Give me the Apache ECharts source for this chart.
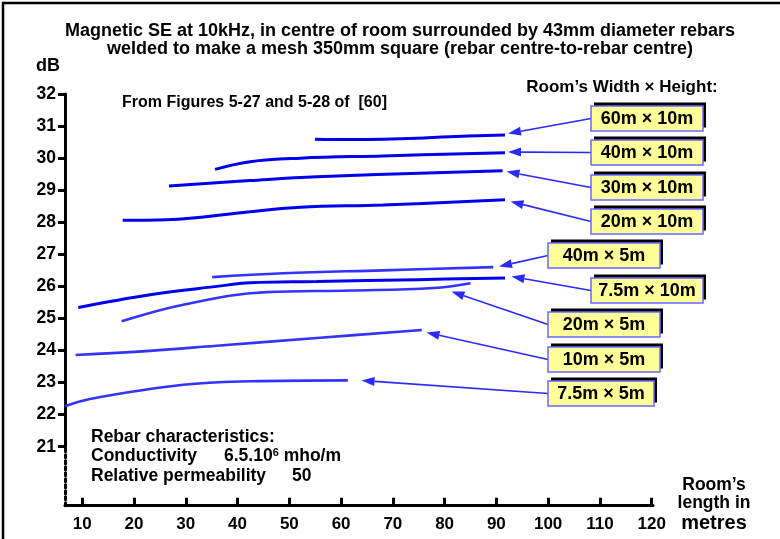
<!DOCTYPE html>
<html><head><meta charset="utf-8">
<script src="https://cdn.jsdelivr.net/npm/echarts@6/dist/echarts.min.js"></script>
<style>html,body{margin:0;padding:0;background:#fff}#c{width:780px;height:539px}</style>
</head><body><div id="c"></div>
<script>
// ---- data (x = room length in metres, y = dB) ----
const xTicks = [10,20,30,40,50,60,70,80,90,100,110,120];
const yTicks = [21,22,23,24,25,26,27,28,29,30,31,32];
const seriesNames = ['60m × 10m','40m × 10m','30m × 10m','20m × 10m','40m × 5m','7.5m × 10m','20m × 5m','10m × 5m','7.5m × 5m'];
const s60x10 = [[54.96,30.59],[61.7,30.58],[68.2,30.59],[74.6,30.62],[81.0,30.67],[91.67,30.72]];
const s40x10 = [[35.64,29.65],[42.4,29.89],[52.1,30.0],[68.1,30.07],[91.67,30.17]];
const s30x10 = [[26.75,29.13],[42.4,29.30],[55.3,29.42],[91.2,29.61]];
const s20x10 = [[17.8,28.06],[26.3,28.08],[42.4,28.33],[52.1,28.47],[68.1,28.54],[91.67,28.70]];
const s40x5  = [[35.1,26.29],[48.8,26.41],[68.15,26.50],[89.4,26.60]];
const s7x10  = [[9.23,25.34],[23.08,25.74],[35.97,26.0],[42.4,26.11],[55.3,26.15],[74.6,26.21],[91.67,26.26]];
const s20x5  = [[17.6,24.91],[29.5,25.43],[45.6,25.82],[61.7,25.87],[77.8,25.95],[85.0,26.10]];
const s10x5  = [[8.72,23.86],[23.08,23.99],[35.97,24.15],[55.3,24.39],[75.6,24.64]];
const s7x5   = [[6.66,22.26],[11.5,22.49],[29.5,22.93],[42.4,23.04],[61.3,23.07]];
const allSeries = [s60x10,s40x10,s30x10,s20x10,s40x5,s7x10,s20x5,s10x5,s7x5];
const isTen = [true,true,true,true,false,true,false,false,false];

const FONT = 'Liberation Sans, Arial, sans-serif';
const XMIN = 6.66, XMAX = 120.26;

const chart = echarts.init(document.getElementById('c'), null, {renderer:'canvas'});

// annotation boxes (pixel layout) : [x, y, w, h, arrow tip x, tip y]
const boxes = [
  [591,106,112,25, 508,133.5],
  [591,140,112,25, 508,152],
  [591,175,112,25, 506.5,171.5],
  [591,209,112,25, 510.5,201.5],
  [548,243,112,25, 499,266.5],
  [591,278,112,25, 511.5,276.5],
  [548,312,112,25, 451.5,291.5],
  [548,347,112,25, 426.5,332.5],
  [548,381,106,25, 361.5,380.5]
];

const T = (x,y,text,size,align)=>({type:'text', x:x, y:y, silent:true,
  style:{text:text, font:'bold '+size+'px '+FONT, fill:'#000', textAlign:align||'left', textVerticalAlign:'middle'}});

const graphics = [];
graphics.push({type:'rect', shape:{x:3,y:3,width:800,height:560}, style:{fill:null, stroke:'#000', lineWidth:2.5}, silent:true});
graphics.push(T(400,31,'Magnetic SE at 10kHz, in centre of room surrounded by 43mm diameter rebars',18,'center'));
graphics.push(T(400,49,'welded to make a mesh 350mm square (rebar centre-to-rebar centre)',18,'center'));
graphics.push(T(48,66,'dB',18,'center'));
graphics.push(T(622,87,'Room\u2019s Width \u00d7 Height:',17,'center'));
graphics.push(T(122,103,'From Figures 5-27 and 5-28 of  [60]',16,'left'));
graphics.push(T(91,437,'Rebar characteristics:',17.5,'left'));
graphics.push(T(91,456,'Conductivity',17.5,'left'));
graphics.push({type:'text', x:224, y:456, silent:true, style:{text:'{a|6.5.10}{s|6}{a| mho/m}',
  rich:{a:{font:'bold 17.5px '+FONT, fill:'#000'}, s:{font:'bold 11px '+FONT, fill:'#000', verticalAlign:'top', padding:[0,0,7,0]}}, textVerticalAlign:'middle'}});
graphics.push(T(91,476,'Relative permeability',17.5,'left'));
graphics.push(T(292,476,'50',17.5,'left'));
graphics.push(T(714,485,'Room\u2019s',17.5,'center'));
graphics.push(T(714,503,'length in',17.5,'center'));
graphics.push(T(714,523,'metres',20,'center'));

boxes.forEach((b,i)=>{
  const [x,y,w,h,tx,ty] = b;
  const sx = x, sy = y + h/2;
  const dx = sx - tx, dy = sy - ty, L = Math.hypot(dx,dy), ux = dx/L, uy = dy/L;
  const hl = 13, hw = 4.5;
  const bx = tx + ux*hl, by = ty + uy*hl;
  graphics.push({type:'line', shape:{x1:sx,y1:sy,x2:bx,y2:by}, style:{stroke:'#2a2aff', lineWidth:1.6}, silent:true});
  graphics.push({type:'polygon', shape:{points:[[tx,ty],[bx - uy*hw, by + ux*hw],[bx + uy*hw, by - ux*hw]]}, style:{fill:'#2a2aff'}, silent:true});
  graphics.push({type:'rect', shape:{x:x+3,y:y-3.5,width:w,height:h}, style:{fill:'#000'}, silent:true});
  graphics.push({type:'rect', shape:{x:x,y:y,width:w,height:h}, style:{fill:'#ffff99', stroke:'#6a6aff', lineWidth:1.5}, silent:true});
  graphics.push(T(x+w/2, y+h/2+0.5, seriesNames[i], 18, 'center'));
});

const option = {
  animation:false,
  backgroundColor:'#fff',
  grid:[
    {left:65, width:588, top:94, height:352.7},
    {left:65, width:588, top:446.7, height:59}
  ],
  xAxis:[
    {gridIndex:0, type:'value', min:XMIN, max:XMAX, show:false, splitLine:{show:false}},
    {gridIndex:1, type:'value', min:XMIN, max:XMAX, splitLine:{show:false},
      axisLine:{show:true, onZero:false, lineStyle:{color:'#000', width:3}},
      axisTick:{show:true, inside:true, length:8, lineStyle:{color:'#000', width:3}, customValues:xTicks},
      axisLabel:{show:true, customValues:xTicks, color:'#000', fontFamily:FONT, fontWeight:'bold', fontSize:17, margin:10}}
  ],
  yAxis:[
    {gridIndex:0, type:'value', min:21, max:32, interval:1, splitLine:{show:false},
      axisLine:{show:true, lineStyle:{color:'#000', width:3}},
      axisTick:{show:true, length:7, lineStyle:{color:'#000', width:3}},
      axisLabel:{color:'#000', fontFamily:FONT, fontWeight:'bold', fontSize:17.5, margin:9}},
    {gridIndex:1, type:'value', min:19.16, max:21, splitLine:{show:false},
      axisLine:{show:true, lineStyle:{color:'#000', width:3, type:[3,3]}},
      axisTick:{show:false}, axisLabel:{show:false}}
  ],
  series: allSeries.map((d,i)=>({
    type:'line', name:seriesNames[i], xAxisIndex:0, yAxisIndex:0, data:d, smooth:0.4,
    symbol:'none', clip:true,
    lineStyle:{color: isTen[i] ? '#0000ee' : '#3333ff', width: isTen[i] ? 3 : 2.6}
  })),
  graphic: graphics
};
chart.setOption(option);
</script></body></html>
